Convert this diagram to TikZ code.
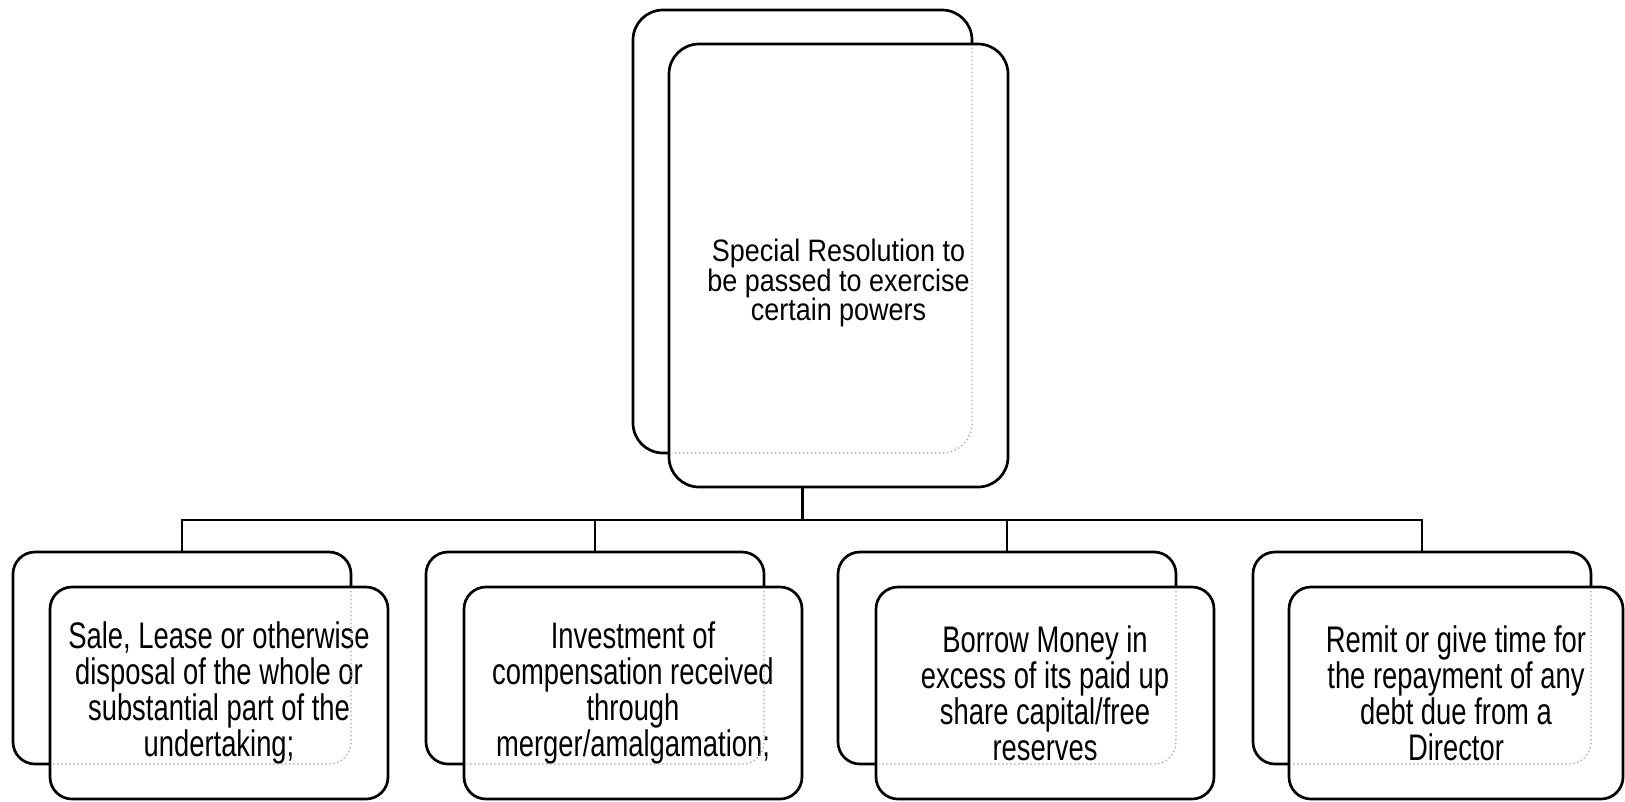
\documentclass[tikz,border=0pt]{standalone}
\usepackage{fontspec}
\newfontfamily\topfont[FakeStretch=0.87]{Liberation Sans}
\newfontfamily\botfont[FakeStretch=0.74]{Liberation Sans}
\begin{document}
\begin{tikzpicture}[x=1pt,y=-1pt,
  bigbox/.style={draw=black, line width=2.7pt, rectangle, rounded corners=30pt,
    fill=white, inner sep=0pt, outer sep=0pt, anchor=north west, minimum width=339pt, minimum height=443pt},
  smallbox/.style={draw=black, line width=2.7pt, rectangle, rounded corners=22pt,
    fill=white, inner sep=0pt, outer sep=0pt, anchor=north west, minimum width=338pt, minimum height=212pt,
    align=center, font=\botfont\fontsize{37}{36}\selectfont},
  hidden/.style={draw=gray!70, line width=1.3pt, dash pattern=on 1.3pt off 2.7pt},
  conn/.style={draw=black, line width=2.7pt}]
\useasboundingbox (0,0) rectangle (1625,801);

% top box
\node[bigbox] (tb) at (633,10) {};
\node[bigbox] (tf) at (669,44) {};
\begin{scope}
  \clip ([xshift=3pt,yshift=3pt]tf.south west) rectangle ([xshift=-3pt,yshift=-3pt]tf.north east);
  \draw[hidden, rounded corners=30pt] (tb.south west) rectangle (tb.north east);
\end{scope}
\node[align=center, font=\topfont\fontsize{31}{27.5}\selectfont] (tt) at (838.5,283)
  {Special Resolution to\\be passed to exercise\\certain powers};

% bottom boxes
\node[smallbox] (b1b) at (13,552) {};
\node[smallbox] (b1f) at (50,587) {Sale, Lease or otherwise\\disposal of the whole or\\substantial part of the\\undertaking;};
\node[smallbox] (b2b) at (426,552) {};
\node[smallbox] (b2f) at (464,587) {Investment of\\compensation received\\through\\merger/amalgamation;};
\node[smallbox] (b3b) at (838,552) {};
\node[smallbox] (b3f) at (876,587) {Borrow Money in\\excess of its paid up\\share capital/free\\reserves};
\node[smallbox] (b4b) at (1253,552) {};
\node[smallbox, minimum width=334pt] (b4f) at (1289,587) {Remit or give time for\\the repayment of any\\debt due from a\\Director};

\foreach \i in {1,2,3,4}{
  \begin{scope}
    \clip ([xshift=3pt,yshift=3pt]b\i f.south west) rectangle ([xshift=-3pt,yshift=-3pt]b\i f.north east);
    \draw[hidden, rounded corners=22pt] (b\i b.south west) rectangle (b\i b.north east);
  \end{scope}
}

% connectors
\coordinate (top) at (tb.south |- tf.south);
\coordinate (bus) at ([yshift=-33pt]top);
\draw[conn] (top) -- (bus);
\draw[conn] (b1b.north) |- (bus) -| (b4b.north);
\draw[conn] (b2b.north) |- (bus);
\draw[conn] (b3b.north) |- (bus);
\end{tikzpicture}
\end{document}
